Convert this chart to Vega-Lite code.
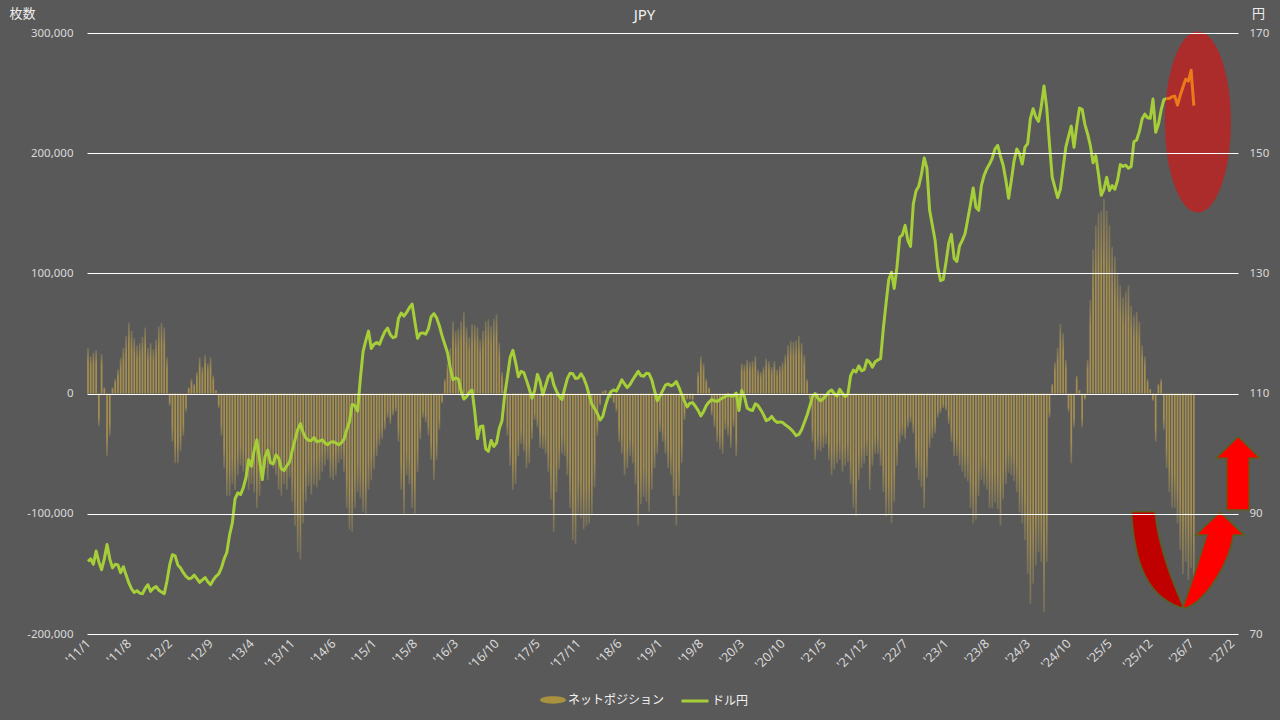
{
"$schema":"https://vega.github.io/schema/vega-lite/v6.json",
"width":1151,"height":601,
"autosize":{"type":"none"},
"padding":{"left":87,"top":33,"right":42,"bottom":86},
"background":"#595959",
"config":{"view":{"stroke":null},"font":"Noto Sans CJK JP",
"axis":{"domain":false,"ticks":false,"labelColor":"#d9d9d9","labelFont":"Noto Sans","labelFontSize":11.5,"titleColor":"#eeeeee","titleFont":"Noto Sans CJK JP","titleFontSize":13,"titleFontWeight":"normal"},
"legend":{"labelColor":"#f2f2f2","labelFont":"Noto Sans CJK JP","labelFontSize":12,"padding":0,"titlePadding":0}},
"title":{"text":"JPY","frame":"group","anchor":"middle","offset":0,"dx":-18,"dy":16,"fontSize":15,"fontWeight":"normal","color":"#f2f2f2","font":"Noto Sans"},
"datasets":{"main":[
{"d":"2011-01-04","p":38000,"v":82.1},{"d":"2011-01-18","p":31000,"v":82.5},{"d":"2011-02-01","p":34000,"v":81.6},{"d":"2011-02-15","p":36000,"v":83.8},{"d":"2011-03-01","p":-27000,"v":82.0},{"d":"2011-03-15","p":33000,"v":80.7},{"d":"2011-03-29","p":5000,"v":82.5},{"d":"2011-04-12","p":-52000,"v":84.9},{"d":"2011-04-26","p":-35000,"v":82.5},{"d":"2011-05-10","p":5000,"v":81.0},{"d":"2011-05-24","p":12000,"v":81.6},{"d":"2011-06-07","p":20000,"v":81.5},{"d":"2011-06-21","p":30000,"v":80.2},{"d":"2011-07-05","p":38000,"v":81.2},{"d":"2011-07-19","p":48000,"v":79.8},{"d":"2011-08-02","p":59000,"v":78.5},{"d":"2011-08-16","p":52000,"v":77.5},{"d":"2011-08-30","p":46000,"v":76.9},{"d":"2011-09-13","p":40000,"v":77.2},{"d":"2011-09-27","p":42000,"v":76.8},{"d":"2011-10-11","p":47000,"v":76.7},{"d":"2011-10-25","p":55000,"v":77.6},{"d":"2011-11-08","p":38000,"v":78.2},{"d":"2011-11-22","p":42000,"v":77.1},{"d":"2011-12-06","p":37000,"v":77.6},{"d":"2011-12-20","p":45000,"v":77.9},
{"d":"2012-01-03","p":56000,"v":77.3},{"d":"2012-01-17","p":59000,"v":77.0},{"d":"2012-01-31","p":55000,"v":76.7},{"d":"2012-02-14","p":30000,"v":78.8},{"d":"2012-02-28","p":-10000,"v":81.5},{"d":"2012-03-13","p":-40000,"v":83.2},{"d":"2012-03-27","p":-58000,"v":83.0},{"d":"2012-04-10","p":-58000,"v":81.5},{"d":"2012-04-24","p":-48000,"v":81.0},{"d":"2012-05-08","p":-35000,"v":80.2},{"d":"2012-05-22","p":-15000,"v":79.6},{"d":"2012-06-05","p":5000,"v":79.2},{"d":"2012-06-19","p":12000,"v":79.3},{"d":"2012-07-03","p":8000,"v":79.8},{"d":"2012-07-17","p":18000,"v":79.2},{"d":"2012-07-31","p":30000,"v":78.6},{"d":"2012-08-14","p":22000,"v":79.0},{"d":"2012-08-28","p":32000,"v":79.4},{"d":"2012-09-11","p":25000,"v":78.7},{"d":"2012-09-25","p":30000,"v":78.2},{"d":"2012-10-09","p":15000,"v":79.0},{"d":"2012-10-23","p":3000,"v":79.6},{"d":"2012-11-06","p":-12000,"v":80.0},{"d":"2012-11-20","p":-35000,"v":81.0},{"d":"2012-12-04","p":-62000,"v":82.5},{"d":"2012-12-18","p":-85000,"v":83.6},
{"d":"2013-01-01","p":-85000,"v":86.5},{"d":"2013-01-15","p":-75000,"v":88.5},{"d":"2013-01-29","p":-80000,"v":92.5},{"d":"2013-02-12","p":-68000,"v":93.5},{"d":"2013-02-26","p":-60000,"v":93.2},{"d":"2013-03-12","p":-65000,"v":94.3},{"d":"2013-03-26","p":-72000,"v":96.0},{"d":"2013-04-09","p":-80000,"v":99.0},{"d":"2013-04-23","p":-75000,"v":97.9},{"d":"2013-05-07","p":-82000,"v":100.5},{"d":"2013-05-21","p":-95000,"v":102.3},{"d":"2013-06-04","p":-85000,"v":99.0},{"d":"2013-06-18","p":-68000,"v":95.7},{"d":"2013-07-02","p":-62000,"v":99.5},{"d":"2013-07-16","p":-72000,"v":100.6},{"d":"2013-07-30","p":-60000,"v":98.5},{"d":"2013-08-13","p":-62000,"v":98.3},{"d":"2013-08-27","p":-68000,"v":99.8},{"d":"2013-09-10","p":-80000,"v":99.3},{"d":"2013-09-24","p":-85000,"v":97.5},{"d":"2013-10-08","p":-75000,"v":97.2},{"d":"2013-10-22","p":-80000,"v":98.0},{"d":"2013-11-05","p":-70000,"v":98.6},{"d":"2013-11-19","p":-90000,"v":100.5},{"d":"2013-12-03","p":-110000,"v":102.3},{"d":"2013-12-17","p":-132000,"v":104.0},{"d":"2013-12-31","p":-138000,"v":105.0},
{"d":"2014-01-14","p":-108000,"v":103.5},{"d":"2014-01-28","p":-90000,"v":102.6},{"d":"2014-02-11","p":-77000,"v":102.2},{"d":"2014-02-25","p":-84000,"v":102.2},{"d":"2014-03-11","p":-76000,"v":102.7},{"d":"2014-03-25","p":-78000,"v":102.0},{"d":"2014-04-08","p":-72000,"v":102.1},{"d":"2014-04-22","p":-65000,"v":102.3},{"d":"2014-05-06","p":-60000,"v":101.8},{"d":"2014-05-20","p":-55000,"v":101.5},{"d":"2014-06-03","p":-70000,"v":101.9},{"d":"2014-06-17","p":-72000,"v":102.0},{"d":"2014-07-01","p":-68000,"v":101.8},{"d":"2014-07-15","p":-58000,"v":101.5},{"d":"2014-07-29","p":-55000,"v":101.8},{"d":"2014-08-12","p":-65000,"v":102.4},{"d":"2014-08-26","p":-95000,"v":104.0},{"d":"2014-09-09","p":-113000,"v":105.3},{"d":"2014-09-23","p":-115000,"v":108.2},{"d":"2014-10-07","p":-95000,"v":108.0},{"d":"2014-10-21","p":-82000,"v":107.1},{"d":"2014-11-04","p":-87000,"v":112.5},{"d":"2014-11-18","p":-98000,"v":117.0},{"d":"2014-12-02","p":-100000,"v":118.8},{"d":"2014-12-16","p":-80000,"v":120.4},{"d":"2014-12-30","p":-72000,"v":117.5},
{"d":"2015-01-13","p":-63000,"v":118.2},{"d":"2015-01-27","p":-52000,"v":118.5},{"d":"2015-02-10","p":-43000,"v":118.2},{"d":"2015-02-24","p":-38000,"v":119.3},{"d":"2015-03-10","p":-30000,"v":120.3},{"d":"2015-03-24","p":-20000,"v":120.9},{"d":"2015-04-07","p":-25000,"v":119.8},{"d":"2015-04-21","p":-18000,"v":119.3},{"d":"2015-05-05","p":-15000,"v":119.5},{"d":"2015-05-19","p":-40000,"v":122.5},{"d":"2015-06-02","p":-80000,"v":123.4},{"d":"2015-06-16","p":-100000,"v":122.9},{"d":"2015-06-30","p":-68000,"v":123.5},{"d":"2015-07-14","p":-75000,"v":124.3},{"d":"2015-07-28","p":-95000,"v":124.9},{"d":"2015-08-11","p":-100000,"v":122.0},{"d":"2015-08-25","p":-65000,"v":119.2},{"d":"2015-09-08","p":-38000,"v":120.0},{"d":"2015-09-22","p":-20000,"v":120.1},{"d":"2015-10-06","p":-24000,"v":119.9},{"d":"2015-10-20","p":-35000,"v":120.8},{"d":"2015-11-03","p":-55000,"v":122.8},{"d":"2015-11-17","p":-72000,"v":123.3},{"d":"2015-12-01","p":-55000,"v":122.6},{"d":"2015-12-15","p":-30000,"v":121.3},{"d":"2015-12-29","p":-8000,"v":119.6},
{"d":"2016-01-12","p":12000,"v":118.2},{"d":"2016-01-26","p":25000,"v":116.8},{"d":"2016-02-09","p":38000,"v":114.3},{"d":"2016-02-23","p":60000,"v":112.3},{"d":"2016-03-08","p":52000,"v":112.6},{"d":"2016-03-22","p":54000,"v":112.4},{"d":"2016-04-05","p":60000,"v":110.4},{"d":"2016-04-19","p":68000,"v":109.1},{"d":"2016-05-03","p":55000,"v":109.5},{"d":"2016-05-17","p":47000,"v":110.2},{"d":"2016-05-31","p":58000,"v":110.6},{"d":"2016-06-14","p":57000,"v":107.0},{"d":"2016-06-28","p":55000,"v":102.5},{"d":"2016-07-12","p":45000,"v":104.5},{"d":"2016-07-26","p":52000,"v":104.6},{"d":"2016-08-09","p":60000,"v":100.8},{"d":"2016-08-23","p":62000,"v":100.4},{"d":"2016-09-06","p":56000,"v":102.2},{"d":"2016-09-20","p":62000,"v":101.2},{"d":"2016-10-04","p":66000,"v":101.8},{"d":"2016-10-18","p":42000,"v":104.2},{"d":"2016-11-01","p":18000,"v":105.5},{"d":"2016-11-15","p":2000,"v":109.8},{"d":"2016-11-29","p":-35000,"v":112.8},{"d":"2016-12-13","p":-60000,"v":116.0},{"d":"2016-12-27","p":-80000,"v":117.2},
{"d":"2017-01-10","p":-75000,"v":115.2},{"d":"2017-01-24","p":-52000,"v":112.8},{"d":"2017-02-07","p":-42000,"v":113.7},{"d":"2017-02-21","p":-48000,"v":113.5},{"d":"2017-03-07","p":-62000,"v":112.2},{"d":"2017-03-21","p":-58000,"v":110.8},{"d":"2017-04-04","p":-38000,"v":109.2},{"d":"2017-04-18","p":-22000,"v":110.5},{"d":"2017-05-02","p":-28000,"v":113.2},{"d":"2017-05-16","p":-45000,"v":112.0},{"d":"2017-05-30","p":-46000,"v":109.8},{"d":"2017-06-13","p":-50000,"v":111.3},{"d":"2017-06-27","p":-65000,"v":112.8},{"d":"2017-07-11","p":-88000,"v":113.4},{"d":"2017-07-25","p":-115000,"v":111.5},{"d":"2017-08-08","p":-82000,"v":110.4},{"d":"2017-08-22","p":-63000,"v":109.6},{"d":"2017-09-05","p":-50000,"v":109.0},{"d":"2017-09-19","p":-52000,"v":110.8},{"d":"2017-10-03","p":-68000,"v":112.5},{"d":"2017-10-17","p":-95000,"v":113.4},{"d":"2017-10-31","p":-122000,"v":113.3},{"d":"2017-11-14","p":-125000,"v":112.5},{"d":"2017-11-28","p":-100000,"v":112.6},{"d":"2017-12-12","p":-104000,"v":113.3},{"d":"2017-12-26","p":-113000,"v":112.6},
{"d":"2018-01-09","p":-110000,"v":111.4},{"d":"2018-01-23","p":-108000,"v":109.8},{"d":"2018-02-06","p":-100000,"v":108.2},{"d":"2018-02-20","p":-78000,"v":107.5},{"d":"2018-03-06","p":-35000,"v":106.7},{"d":"2018-03-20","p":-10000,"v":105.6},{"d":"2018-04-03","p":2000,"v":106.2},{"d":"2018-04-17","p":3000,"v":108.0},{"d":"2018-05-01","p":-2000,"v":109.4},{"d":"2018-05-15","p":-4000,"v":110.3},{"d":"2018-05-29","p":-8000,"v":110.6},{"d":"2018-06-12","p":-15000,"v":110.4},{"d":"2018-06-26","p":-40000,"v":111.3},{"d":"2018-07-10","p":-50000,"v":112.3},{"d":"2018-07-24","p":-68000,"v":111.6},{"d":"2018-08-07","p":-62000,"v":111.0},{"d":"2018-08-21","p":-52000,"v":111.5},{"d":"2018-09-04","p":-58000,"v":112.3},{"d":"2018-09-18","p":-75000,"v":113.0},{"d":"2018-10-02","p":-110000,"v":113.7},{"d":"2018-10-16","p":-92000,"v":113.0},{"d":"2018-10-30","p":-86000,"v":112.9},{"d":"2018-11-13","p":-90000,"v":113.4},{"d":"2018-11-27","p":-98000,"v":113.3},{"d":"2018-12-11","p":-80000,"v":112.3},{"d":"2018-12-25","p":-62000,"v":110.5},
{"d":"2019-01-08","p":-50000,"v":108.8},{"d":"2019-01-22","p":-32000,"v":109.6},{"d":"2019-02-05","p":-40000,"v":110.5},{"d":"2019-02-19","p":-50000,"v":111.4},{"d":"2019-03-05","p":-62000,"v":111.6},{"d":"2019-03-19","p":-68000,"v":111.3},{"d":"2019-04-02","p":-85000,"v":111.5},{"d":"2019-04-16","p":-110000,"v":112.0},{"d":"2019-04-30","p":-85000,"v":111.0},{"d":"2019-05-14","p":-58000,"v":109.8},{"d":"2019-05-28","p":-22000,"v":108.7},{"d":"2019-06-11","p":-5000,"v":107.8},{"d":"2019-06-25","p":-5000,"v":108.4},{"d":"2019-07-09","p":-6000,"v":108.5},{"d":"2019-07-23","p":0,"v":107.9},{"d":"2019-08-06","p":18000,"v":107.2},{"d":"2019-08-20","p":31000,"v":106.3},{"d":"2019-09-03","p":25000,"v":107.0},{"d":"2019-09-17","p":12000,"v":108.0},{"d":"2019-10-01","p":5000,"v":108.6},{"d":"2019-10-15","p":-18000,"v":109.0},{"d":"2019-10-29","p":-28000,"v":108.8},{"d":"2019-11-12","p":-40000,"v":108.7},{"d":"2019-11-26","p":-46000,"v":109.0},{"d":"2019-12-10","p":-50000,"v":109.3},{"d":"2019-12-24","p":-30000,"v":109.5},
{"d":"2020-01-07","p":-35000,"v":109.8},{"d":"2020-01-21","p":-45000,"v":109.6},{"d":"2020-02-04","p":-28000,"v":109.6},{"d":"2020-02-18","p":-52000,"v":110.1},{"d":"2020-03-03","p":-12000,"v":107.2},{"d":"2020-03-17","p":25000,"v":110.5},{"d":"2020-03-31","p":24000,"v":109.5},{"d":"2020-04-14","p":28000,"v":107.6},{"d":"2020-04-28","p":26000,"v":107.3},{"d":"2020-05-12","p":27000,"v":107.2},{"d":"2020-05-26","p":31000,"v":108.3},{"d":"2020-06-09","p":20000,"v":108.0},{"d":"2020-06-23","p":18000,"v":107.3},{"d":"2020-07-07","p":22000,"v":106.5},{"d":"2020-07-21","p":29000,"v":105.5},{"d":"2020-08-04","p":27000,"v":105.7},{"d":"2020-08-18","p":22000,"v":106.2},{"d":"2020-09-01","p":27000,"v":105.6},{"d":"2020-09-15","p":20000,"v":105.2},{"d":"2020-09-29","p":23000,"v":105.3},{"d":"2020-10-13","p":26000,"v":105.2},{"d":"2020-10-27","p":32000,"v":104.8},{"d":"2020-11-10","p":40000,"v":104.5},{"d":"2020-11-24","p":44000,"v":104.1},{"d":"2020-12-08","p":43000,"v":103.6},{"d":"2020-12-22","p":44000,"v":103.0},
{"d":"2021-01-05","p":48000,"v":103.2},{"d":"2021-01-19","p":42000,"v":104.0},{"d":"2021-02-02","p":32000,"v":105.2},{"d":"2021-02-16","p":12000,"v":106.4},{"d":"2021-03-02","p":-5000,"v":107.9},{"d":"2021-03-16","p":-40000,"v":109.5},{"d":"2021-03-30","p":-55000,"v":110.0},{"d":"2021-04-13","p":-47000,"v":109.2},{"d":"2021-04-27","p":-48000,"v":108.8},{"d":"2021-05-11","p":-45000,"v":109.2},{"d":"2021-05-25","p":-42000,"v":109.7},{"d":"2021-06-08","p":-55000,"v":110.3},{"d":"2021-06-22","p":-68000,"v":110.6},{"d":"2021-07-06","p":-63000,"v":110.0},{"d":"2021-07-20","p":-58000,"v":109.6},{"d":"2021-08-03","p":-55000,"v":110.7},{"d":"2021-08-17","p":-65000,"v":110.0},{"d":"2021-08-31","p":-60000,"v":109.5},{"d":"2021-09-14","p":-57000,"v":109.9},{"d":"2021-09-28","p":-75000,"v":113.0},{"d":"2021-10-12","p":-95000,"v":113.9},{"d":"2021-10-26","p":-102000,"v":113.6},{"d":"2021-11-09","p":-72000,"v":114.6},{"d":"2021-11-23","p":-62000,"v":113.8},{"d":"2021-12-07","p":-58000,"v":114.0},{"d":"2021-12-21","p":-52000,"v":115.6},
{"d":"2022-01-04","p":-80000,"v":115.2},{"d":"2022-01-18","p":-60000,"v":114.4},{"d":"2022-02-01","p":-50000,"v":115.3},{"d":"2022-02-15","p":-50000,"v":115.6},{"d":"2022-03-01","p":-60000,"v":115.8},{"d":"2022-03-15","p":-82000,"v":120.8},{"d":"2022-03-29","p":-102000,"v":125.0},{"d":"2022-04-12","p":-101000,"v":129.0},{"d":"2022-04-26","p":-108000,"v":130.2},{"d":"2022-05-10","p":-90000,"v":127.5},{"d":"2022-05-24","p":-60000,"v":131.0},{"d":"2022-06-07","p":-41000,"v":136.0},{"d":"2022-06-21","p":-35000,"v":136.4},{"d":"2022-07-05","p":-38000,"v":138.0},{"d":"2022-07-19","p":-28000,"v":135.5},{"d":"2022-08-02","p":-24000,"v":134.5},{"d":"2022-08-16","p":-33000,"v":141.5},{"d":"2022-08-30","p":-62000,"v":143.7},{"d":"2022-09-13","p":-72000,"v":144.5},{"d":"2022-09-27","p":-78000,"v":146.5},{"d":"2022-10-11","p":-95000,"v":149.2},{"d":"2022-10-25","p":-70000,"v":147.5},{"d":"2022-11-08","p":-45000,"v":140.5},{"d":"2022-11-22","p":-37000,"v":138.0},{"d":"2022-12-06","p":-33000,"v":135.5},{"d":"2022-12-20","p":-20000,"v":131.0},
{"d":"2023-01-03","p":-16000,"v":128.8},{"d":"2023-01-17","p":-12000,"v":129.0},{"d":"2023-01-31","p":-14000,"v":131.8},{"d":"2023-02-14","p":-25000,"v":135.0},{"d":"2023-02-28","p":-40000,"v":136.5},{"d":"2023-03-14","p":-52000,"v":132.5},{"d":"2023-03-28","p":-52000,"v":132.0},{"d":"2023-04-11","p":-60000,"v":134.6},{"d":"2023-04-25","p":-65000,"v":135.5},{"d":"2023-05-09","p":-70000,"v":136.6},{"d":"2023-05-23","p":-73000,"v":139.0},{"d":"2023-06-06","p":-95000,"v":141.5},{"d":"2023-06-20","p":-108000,"v":144.2},{"d":"2023-07-04","p":-105000,"v":141.0},{"d":"2023-07-18","p":-85000,"v":140.5},{"d":"2023-08-01","p":-72000,"v":144.6},{"d":"2023-08-15","p":-76000,"v":146.3},{"d":"2023-08-29","p":-80000,"v":147.4},{"d":"2023-09-12","p":-95000,"v":148.2},{"d":"2023-09-26","p":-95000,"v":149.2},{"d":"2023-10-10","p":-91000,"v":150.7},{"d":"2023-10-24","p":-96000,"v":151.3},{"d":"2023-11-07","p":-110000,"v":149.5},{"d":"2023-11-21","p":-88000,"v":148.0},{"d":"2023-12-05","p":-75000,"v":145.5},{"d":"2023-12-19","p":-66000,"v":142.5},
{"d":"2024-01-02","p":-68000,"v":145.5},{"d":"2024-01-16","p":-73000,"v":148.7},{"d":"2024-01-30","p":-82000,"v":150.7},{"d":"2024-02-13","p":-99000,"v":149.9},{"d":"2024-02-27","p":-108000,"v":148.2},{"d":"2024-03-12","p":-122000,"v":151.0},{"d":"2024-03-26","p":-150000,"v":151.6},{"d":"2024-04-09","p":-175000,"v":155.8},{"d":"2024-04-23","p":-158000,"v":157.4},{"d":"2024-05-07","p":-143000,"v":156.0},{"d":"2024-05-21","p":-132000,"v":155.3},{"d":"2024-06-04","p":-140000,"v":157.8},{"d":"2024-06-18","p":-182000,"v":161.2},{"d":"2024-07-02","p":-140000,"v":157.5},{"d":"2024-07-16","p":-20000,"v":151.5},{"d":"2024-07-30","p":8000,"v":146.0},{"d":"2024-08-13","p":26000,"v":144.3},{"d":"2024-08-27","p":38000,"v":142.6},{"d":"2024-09-10","p":58000,"v":144.0},{"d":"2024-09-24","p":50000,"v":147.5},{"d":"2024-10-08","p":28000,"v":151.0},{"d":"2024-10-22","p":-15000,"v":152.8},{"d":"2024-11-05","p":-58000,"v":154.5},{"d":"2024-11-19","p":-28000,"v":151.0},{"d":"2024-12-03","p":15000,"v":154.5},{"d":"2024-12-17","p":3000,"v":157.5},{"d":"2024-12-31","p":-28000,"v":157.3},
{"d":"2025-01-14","p":-5000,"v":154.8},{"d":"2025-01-28","p":28000,"v":153.2},{"d":"2025-02-11","p":78000,"v":151.3},{"d":"2025-02-25","p":120000,"v":148.4},{"d":"2025-03-11","p":140000,"v":149.6},{"d":"2025-03-25","p":150000,"v":146.5},{"d":"2025-04-08","p":152000,"v":143.0},{"d":"2025-04-22","p":162000,"v":144.0},{"d":"2025-05-06","p":152000,"v":146.0},{"d":"2025-05-20","p":140000,"v":143.8},{"d":"2025-06-03","p":122000,"v":144.6},{"d":"2025-06-17","p":114000,"v":144.0},{"d":"2025-07-01","p":100000,"v":145.5},{"d":"2025-07-15","p":90000,"v":148.1},{"d":"2025-07-29","p":80000,"v":147.8},{"d":"2025-08-12","p":85000,"v":148.0},{"d":"2025-08-26","p":90000,"v":147.5},{"d":"2025-09-09","p":73000,"v":147.8},{"d":"2025-09-23","p":65000,"v":151.9},{"d":"2025-10-07","p":68000,"v":152.2},{"d":"2025-10-21","p":60000,"v":153.6},{"d":"2025-11-04","p":40000,"v":155.7},{"d":"2025-11-18","p":31000,"v":156.5},{"d":"2025-12-02","p":12000,"v":155.9},{"d":"2025-12-16","p":4000,"v":155.8},{"d":"2025-12-30","p":-6000,"v":159.0},
{"d":"2026-01-13","p":-40000,"v":153.5},{"d":"2026-01-27","p":8000,"v":154.8},{"d":"2026-02-10","p":12000,"v":157.2},{"d":"2026-02-24","p":-30000,"v":158.9},{"d":"2026-03-10","p":-62000,"v":159.1},{"d":"2026-03-24","p":-82000},{"d":"2026-04-07","p":-95000},{"d":"2026-04-21","p":-95000},{"d":"2026-05-05","p":-108000},{"d":"2026-05-19","p":-130000},{"d":"2026-06-02","p":-150000},{"d":"2026-06-16","p":-140000},{"d":"2026-06-30","p":-155000},{"d":"2026-07-14","p":-145000},{"d":"2026-07-28","p":-160000}
],
"fc":[{"d":"2026-03-10","v":159.1},{"d":"2026-03-24","v":159.1},{"d":"2026-04-07","v":159.4},{"d":"2026-04-21","v":159.5},{"d":"2026-05-05","v":158.0},{"d":"2026-05-19","v":159.6},{"d":"2026-06-02","v":161.0},{"d":"2026-06-16","v":162.3},{"d":"2026-06-30","v":162.0},{"d":"2026-07-14","v":163.8},{"d":"2026-07-28","v":157.9}]
},
"encoding":{"x":{"field":"d","type":"temporal","title":null,
"scale":{"type":"utc","nice":false,"padding":0,"domain":[{"year":2010,"month":12,"date":30,"utc":true},{"year":2027,"month":3,"date":12,"utc":true}]},
"axis":{"grid":false,"format":"'%y/%-m","labelAngle":-45,"labelAlign":"right","labelBaseline":"middle","labelPadding":7,"labelFontSize":12.5,"labelOverlap":false,"labelFlush":false,"labelBound":false,
"values":[{"year":2011,"month":1,"date":4,"utc":true},{"year":2011,"month":8,"date":2,"utc":true},{"year":2012,"month":2,"date":28,"utc":true},{"year":2012,"month":9,"date":25,"utc":true},{"year":2013,"month":4,"date":23,"utc":true},{"year":2013,"month":11,"date":19,"utc":true},{"year":2014,"month":6,"date":17,"utc":true},{"year":2015,"month":1,"date":13,"utc":true},{"year":2015,"month":8,"date":11,"utc":true},{"year":2016,"month":3,"date":8,"utc":true},{"year":2016,"month":10,"date":4,"utc":true},{"year":2017,"month":5,"date":2,"utc":true},{"year":2017,"month":11,"date":28,"utc":true},{"year":2018,"month":6,"date":26,"utc":true},{"year":2019,"month":1,"date":22,"utc":true},{"year":2019,"month":8,"date":20,"utc":true},{"year":2020,"month":3,"date":17,"utc":true},{"year":2020,"month":10,"date":13,"utc":true},{"year":2021,"month":5,"date":11,"utc":true},{"year":2021,"month":12,"date":7,"utc":true},{"year":2022,"month":7,"date":5,"utc":true},{"year":2023,"month":1,"date":31,"utc":true},{"year":2023,"month":8,"date":29,"utc":true},{"year":2024,"month":3,"date":26,"utc":true},{"year":2024,"month":10,"date":22,"utc":true},{"year":2025,"month":5,"date":20,"utc":true},{"year":2025,"month":12,"date":16,"utc":true},{"year":2026,"month":7,"date":14,"utc":true},{"year":2027,"month":2,"date":9,"utc":true}]}}},
"layer":[
{"data":{"name":"main"},
"encoding":{"y":{"field":"p","type":"quantitative","scale":{"domain":[-200000,300000],"nice":false,"zero":false},
"axis":{"values":[-200000,-100000,0,100000,200000,300000],"labelExpr":"replace(format(datum.value, ','), '\u2212', '-')","grid":true,"gridColor":"#ffffff","gridOpacity":1,"gridWidth":1,"zindex":1,"labelPadding":14,
"title":"枚数","titleAngle":0,"titleAlign":"left","titleBaseline":"alphabetic","titleX":-78,"titleY":-16}}},
"layer":[
{"transform":[{"filter":"datum.p >= 0"}],
"mark":{"type":"bar","width":1.7,"fill":{"gradient":"linear","x1":0,"y1":0,"x2":0,"y2":1,"stops":[{"offset":0,"color":"#76705a"},{"offset":0.3,"color":"#a68f4e"},{"offset":1,"color":"#a68f4e"}]}}},
{"transform":[{"filter":"datum.p < 0"}],
"mark":{"type":"bar","width":1.7,"fill":{"gradient":"linear","x1":0,"y1":0,"x2":0,"y2":1,"stops":[{"offset":0,"color":"#a68f4e"},{"offset":0.7,"color":"#a68f4e"},{"offset":1,"color":"#76705a"}]}}},
{"data":{"values":[{"d":"2020-01-07","p":0}]},
"mark":{"type":"point","filled":true,"size":0,"opacity":1,"shape":"M-1,0C-1,-0.1546,-0.5523,-0.28,0,-0.28C0.5523,-0.28,1,-0.1546,1,0C1,0.1546,0.5523,0.28,0,0.28C-0.5523,0.28,-1,0.1546,-1,0Z"},
"encoding":{"fill":{"datum":"ネットポジション","scale":{"range":["#a8913f"]},
"legend":{"orient":"none","legendX":453,"legendY":654,"title":null,"symbolType":"M-1,0C-1,-0.1546,-0.5523,-0.28,0,-0.28C0.5523,-0.28,1,-0.1546,1,0C1,0.1546,0.5523,0.28,0,0.28C-0.5523,0.28,-1,0.1546,-1,0Z","symbolSize":676,"symbolOpacity":1,"symbolStrokeWidth":0,"labelOffset":2}}}}
]},
{"data":{"name":"main"},
"encoding":{"y":{"field":"v","type":"quantitative","scale":{"domain":[70,170],"nice":false,"zero":false},
"axis":{"orient":"right","values":[70,90,110,130,150,170],"grid":false,"labelPadding":11,"title":"円","titleAngle":0,"titleAlign":"center","titleBaseline":"alphabetic","titleX":20,"titleY":-16}}},
"layer":[
{"mark":{"type":"line","strokeWidth":3,"strokeJoin":"round"},
"encoding":{"stroke":{"datum":"ドル円","scale":{"range":["#a6ce39"]},
"legend":{"orient":"none","legendX":593,"legendY":653,"title":null,"symbolType":"stroke","symbolSize":729,"symbolStrokeWidth":3,"labelOffset":2}}}},
{"data":{"values":[{"d":"2026-08-18","v":155.2}]},
"mark":{"type":"point","filled":true,"fill":"#ff0000","opacity":0.5,"strokeWidth":0,"size":32761,"shape":"M0,-1C0.2014,-1,0.3646,-0.5523,0.3646,0C0.3646,0.5523,0.2014,1,0,1C-0.2014,1,-0.3646,0.5523,-0.3646,0C-0.3646,-0.5523,-0.2014,-1,0,-1Z"}},
{"data":{"name":"fc"},
"mark":{"type":"line","stroke":"#ec7a1c","strokeWidth":3,"strokeJoin":"round"}},
{"data":{"values":[{"d":"2026-06-02","v":82.31}]},
"mark":{"type":"point","filled":true,"fill":"#c00000","stroke":"#5b5f1e","strokeWidth":1.5,"opacity":1,"size":4,"shape":"M-51.3,-48.3L-28,-48.3C-26,-25,-16,10,0.3,46.7L-1.3,47.7C-25,40,-48,20,-51.3,-48.3Z"}},
{"data":{"values":[{"d":"2026-06-02","v":82.31}]},
"mark":{"type":"point","filled":true,"fill":"#ff0000","stroke":"#5b5f1e","strokeWidth":1.5,"opacity":1,"size":4,"shape":"M0.3,46.7Q13,11,24,-25L13,-25L37,-47.7L61,-25L50.3,-25C47,0,25,40,2,48.3Z"}},
{"data":{"values":[{"d":"2026-06-02","v":82.31}]},
"mark":{"type":"point","filled":true,"fill":"#ff0000","stroke":"#5b5f1e","strokeWidth":1.5,"opacity":1,"size":4,"shape":"M55.3,-123.3L77,-101.7L66.3,-101.7L66.3,-50L43.7,-50L43.7,-101.7L33,-101.7Z"}}
]}
],
"resolve":{"scale":{"y":"independent"}}
}
